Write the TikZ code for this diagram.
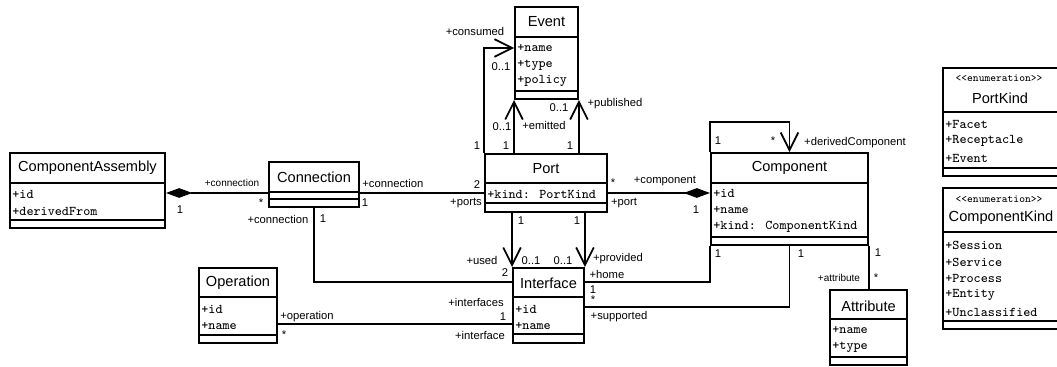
\documentclass[tikz,border=0pt]{standalone}
\usepackage{fontspec}
\setmainfont{Liberation Sans}
\usetikzlibrary{arrows.meta, fit}

\tikzset{
  classbox/.style = {draw, line width=1.1pt, inner sep=0pt},
  classname/.style = {font=\fontsize{8.3}{10}\selectfont, inner sep=0pt},
  stereo/.style = {font=\ttfamily\fontsize{6.2}{8}\selectfont, inner sep=0pt},
  attr/.style = {font=\ttfamily\fontsize{7.6}{9}\selectfont, anchor=west, inner sep=0pt},
  role/.style = {font=\fontsize{6.4}{8}\selectfont, inner sep=0pt},
  small role/.style = {font=\fontsize{5.7}{7}\selectfont, inner sep=0pt},
  assoc/.style = {line width=1pt},
  thin assoc/.style = {line width=0.6pt},
  nav/.style = {assoc, -{Straight Barb[length=10pt, width=10pt]}},
  compose/.style = {{Diamond[length=15pt, width=5.5pt]}-},
}
\newcommand{\classline}[2]{\draw[line width=1.1pt] (#1.west |- 0,#2) -- (#1.east |- 0,#2);}

\begin{document}
\begin{tikzpicture}[x=0.02cm, y=-0.02cm]
  \useasboundingbox (0,0) rectangle (1057,367);
  \clip (0,0) rectangle (1057,367);

  % classes
  \node[classbox, fit={(10,153) (165,228)}] (asm) {};
  \classline{asm}{183} \classline{asm}{220}
  \node[classname] (asmname) at (87.5,168) {ComponentAssembly};
  \node[attr] (asmid) at (12,194) {+id};
  \node[attr] (asmfrom) at (12,211) {+derivedFrom};

  \node[classbox, fit={(269,162) (359,207)}] (conn) {};
  \classline{conn}{192} \classline{conn}{199}
  \node[classname] (connname) at (314,177) {Connection};

  \node[classbox, fit={(485,154) (607,212)}] (port) {};
  \classline{port}{183} \classline{port}{203}
  \node[classname] (portname) at (546,169) {Port};
  \node[attr] (portkind) at (487,194) {+kind: PortKind};

  \node[classbox, fit={(515,7) (578,99)}] (event) {};
  \classline{event}{37} \classline{event}{91}
  \node[classname] (eventname) at (546.5,22) {Event};
  \node[attr] (eventname) at (517,48) {+name};
  \node[attr] (eventtype) at (517,65) {+type};
  \node[attr] (eventpolicy) at (517,81) {+policy};

  \node[classbox, fit={(711,153) (868,245)}] (comp) {};
  \classline{comp}{183} \classline{comp}{237}
  \node[classname] (compname) at (789.5,168) {Component};
  \node[attr] (compid) at (713,193) {+id};
  \node[attr] (compnm) at (713,210) {+name};
  \node[attr] (compkind) at (713,227) {+kind: ComponentKind};

  \node[classbox, fit={(513,268) (584,343)}] (iface) {};
  \classline{iface}{297} \classline{iface}{334}
  \node[classname] (ifacename) at (548.5,283) {Interface};
  \node[attr] (ifaceid) at (515,309) {+id};
  \node[attr] (ifacenm) at (515,326) {+name};

  \node[classbox, fit={(199,268) (277,343)}] (op) {};
  \classline{op}{297} \classline{op}{335}
  \node[classname] (opname) at (238,283) {Operation};
  \node[attr] (opid) at (201,309) {+id};
  \node[attr] (opnm) at (201,326) {+name};

  \node[classbox, fit={(830,290) (907,365)}] (attrb) {};
  \classline{attrb}{319} \classline{attrb}{357}
  \node[classname] (attrbname) at (868.5,306) {Attribute};
  \node[attr] (attrbnm) at (832,330) {+name};
  \node[attr] (attrbtype) at (832,347) {+type};

  % enumerations
  \node[classbox, fit={(943,68) (1062,176)}] (pkind) {};
  \classline{pkind}{112} \classline{pkind}{168}
  \node[stereo] (pkindst) at (999,78) {<<enumeration>>};
  \node[classname] (pkindname) at (1000,98) {PortKind};
  \node[attr] (pfacet) at (945,124) {+Facet};
  \node[attr] (precep) at (945,141) {+Receptacle};
  \node[attr] (pevent) at (945,158) {+Event};

  \node[classbox, fit={(943,188) (1062,329)}] (ckind) {};
  \classline{ckind}{232} \classline{ckind}{321}
  \node[stereo] (ckindst) at (999,199) {<<enumeration>>};
  \node[classname] (ckindname) at (1001,218) {ComponentKind};
  \node[attr] (csession) at (945,245) {+Session};
  \node[attr] (cservice) at (945,262) {+Service};
  \node[attr] (cprocess) at (945,278) {+Process};
  \node[attr] (centity) at (945,295) {+Entity};
  \node[attr] (cunclass) at (945,312) {+Unclassified};

  % associations
  \draw[thin assoc, compose] (asm.east |- 0,193) -- (conn.west |- 0,193);
  \node[small role] (asmrole) at (232,183) {+connection};
  \node[role] (asmm1) at (180,210) {1};
  \node[role] (asmm2) at (261,203) {*};

  \draw[thin assoc] (conn.east |- 0,193) -- (port.west |- 0,193);
  \node[role, anchor=west] (cprole1) at (362,183) {+connection};
  \node[role] (cpm1) at (365,203) {1};
  \node[role] (cpm2) at (477,185) {2};
  \node[role] (cprole2) at (466,203) {+ports};

  \draw[assoc, -{Diamond[length=15pt, width=5.5pt]}] (port.east |- 0,193) -- (comp.west |- 0,193);
  \node[role] (pcm1) at (613,183) {*};
  \node[role] (pcrole1) at (665,181) {+component};
  \node[role] (pcrole2) at (624,203) {+port};
  \node[role] (pcm2) at (696,210) {1};

  \draw[nav] (port.north west) |- (event.west |- 0,48);
  \node[role] (consrole) at (475,31) {+consumed};
  \node[role] (consm1) at (501,67) {0..1};
  \node[role] (consm2) at (477,146) {1};

  \draw[nav] (port.north -| event.south west) -- (event.south west);
  \node[role] (emitm1) at (502,127) {0..1};
  \node[role] (emitrole) at (544,125) {+emitted};
  \node[role] (emitm2) at (506,146) {1};

  \draw[nav] (port.north -| event.south east) -- (event.south east);
  \node[role] (pubm1) at (559,108) {0..1};
  \node[role] (pubrole) at (615,104) {+published};
  \node[role] (pubm2) at (570,146) {1};

  \draw[nav] (port.south -| iface.north west) -- (iface.north west);
  \node[role] (usedm1) at (521,221) {1};
  \node[role] (usedrole) at (482,260) {+used};
  \node[role] (usedm2) at (531,261) {0..1};

  \draw[nav] (port.south -| iface.north east) -- (iface.north east);
  \node[role] (provm1) at (577,221) {1};
  \node[role] (provm2) at (563,261) {0..1};
  \node[role] (provrole) at (618,259) {+provided};

  \draw[assoc] (conn.south) |- (iface.west |- 0,282);
  \node[role] (cirole1) at (278,219) {+connection};
  \node[role] (cim1) at (323,219) {1};
  \node[role] (cim2) at (505,273) {2};
  \node[role] (cirole2) at (476,302) {+interfaces};

  \draw[thin assoc] (op.east |- 0,324) -- (iface.west |- 0,324);
  \node[role] (oirole1) at (307,317) {+operation};
  \node[role] (oim1) at (284,335) {*};
  \node[role] (oim2) at (503,317) {1};
  \node[role] (oirole2) at (480,335) {+interface};

  \draw[assoc] (comp.south west) |- (iface.east |- 0,282);
  \node[role] (homem1) at (718,254) {1};
  \node[role] (homerole) at (607,274) {+home};
  \node[role] (homem2) at (593,290) {1};

  \draw[assoc] (comp.south) |- (iface.east |- 0,307);
  \node[role] (supm1) at (801,254) {1};
  \node[role] (supm2) at (593,300) {*};
  \node[role] (suprole) at (619,317) {+supported};

  \draw[assoc] (comp.south east) -- (comp.south east |- attrb.north);
  \node[role] (attm1) at (878,253) {1};
  \node[role] (attm2) at (876,278) {*};
  \node[small role] (attrole) at (839,278) {+attribute};

  \draw[nav] (comp.north west) -- ++(0,-30) -| (comp.north);
  \node[role] (derm1) at (718,141) {1};
  \node[role] (derm2) at (773,141) {*};
  \node[role] (derrole) at (855,143) {+derivedComponent};
\end{tikzpicture}
\end{document}
